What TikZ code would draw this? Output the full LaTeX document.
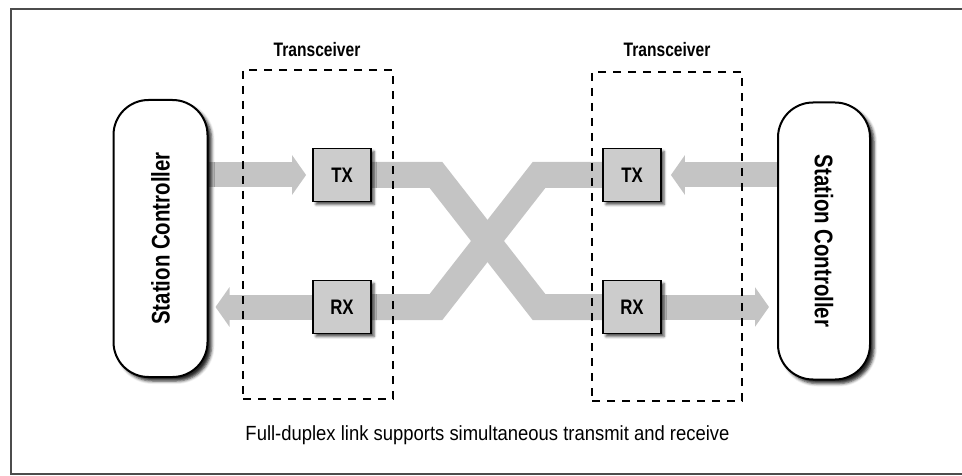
\documentclass[tikz,border=0pt]{standalone}
\usepackage{fontspec}
\setmainfont{Liberation Sans}
\newfontfamily\labelfont[FakeStretch=0.8]{Liberation Sans}
\newfontfamily\captionfont[FakeStretch=0.9]{Liberation Sans}
\usetikzlibrary{arrows.meta,shadows.blur,backgrounds}

\tikzset{
  controller/.style={draw=black, line width=2pt, fill=white, rounded corners=35pt,
    minimum width=94pt, minimum height=277pt, inner sep=0pt,
    blur shadow={shadow xshift=4pt, shadow yshift=-4pt, shadow blur radius=3pt, shadow opacity=85}},
  unit/.style={draw=black, line width=1.8pt, fill=black!20, minimum width=58pt,
    minimum height=53pt, inner sep=0pt,
    font=\labelfont\bfseries\fontsize{21}{21}\selectfont,
    blur shadow={shadow xshift=3pt, shadow yshift=-3pt, shadow blur radius=2.5pt, shadow opacity=70}},
  group/.style={draw=black, line width=1.5pt, dash pattern=on 8pt off 7pt,
    minimum width=150pt, minimum height=329pt, inner sep=0pt},
  grouplabel/.style={font=\labelfont\bfseries\fontsize{19.5}{19.5}\selectfont, inner sep=0pt, anchor=base},
  ctrltext/.style={font=\labelfont\bfseries\fontsize{25.5}{25.5}\selectfont, inner sep=0pt},
  band/.style={draw=black!23, line width=26pt, line join=miter},
  flow/.style={draw=black!23, line width=25pt,
    -{Triangle[width=39pt,length=14pt]}},
}

\begin{document}
\begin{tikzpicture}[x=1pt, y=-1pt]
\useasboundingbox (0,0) rectangle (962,476);

% frame, open on the right
\draw[black!70, line width=1.5pt] (962,9) -- (11,9) -- (11,474) -- (962,474);

% station controllers
\node[controller] (sc1) at (160.5,238.5) {};
\node[ctrltext, rotate=90] (sc1t) at (sc1.center) {Station Controller};
\node[controller, minimum width=92pt] (sc2) at (824,241) {};
\node[ctrltext, rotate=-90] (sc2t) at (sc2.center) {Station Controller};

% transceivers
\node[group] (tr1) at (318,234.5) {};
\node[group] (tr2) at (667,236.5) {};
\node[grouplabel] (tr1l) at (317,56.5) {Transceiver};
\node[grouplabel] (tr2l) at (667,57) {Transceiver};

% transmitter / receiver units
\node[unit] (tx1) at (342,175) {TX};
\node[unit] (rx1) at (342,307) {RX};
\node[unit] (tx2) at (632,175) {TX};
\node[unit] (rx2) at (632,307) {RX};

% signal paths
\begin{pgfonlayer}{background}
  \draw[flow, shorten >=6pt] (sc1.east |- tx1) -- (tx1.west);
  \draw[flow, shorten >=7pt] (rx1.west) -- (sc1.east |- rx1);
  \draw[flow, shorten >=9pt] (sc2.west |- tx2) -- (tx2.east);
  \draw[flow, shorten >=8pt] (rx2.east) -- (sc2.west |- rx2);
  \draw[band] (tx1.east) -- (436,175) -- (539,307) -- (rx2.west);
  \draw[band] (rx1.east) -- (436,307) -- (539,175) -- (tx2.west);
\end{pgfonlayer}

% caption
\node[font=\captionfont\fontsize{20.5}{20.5}\selectfont, inner sep=0pt, anchor=base] (cap) at (487.5,440)
  {Full-duplex link supports simultaneous transmit and receive};
\end{tikzpicture}
\end{document}
